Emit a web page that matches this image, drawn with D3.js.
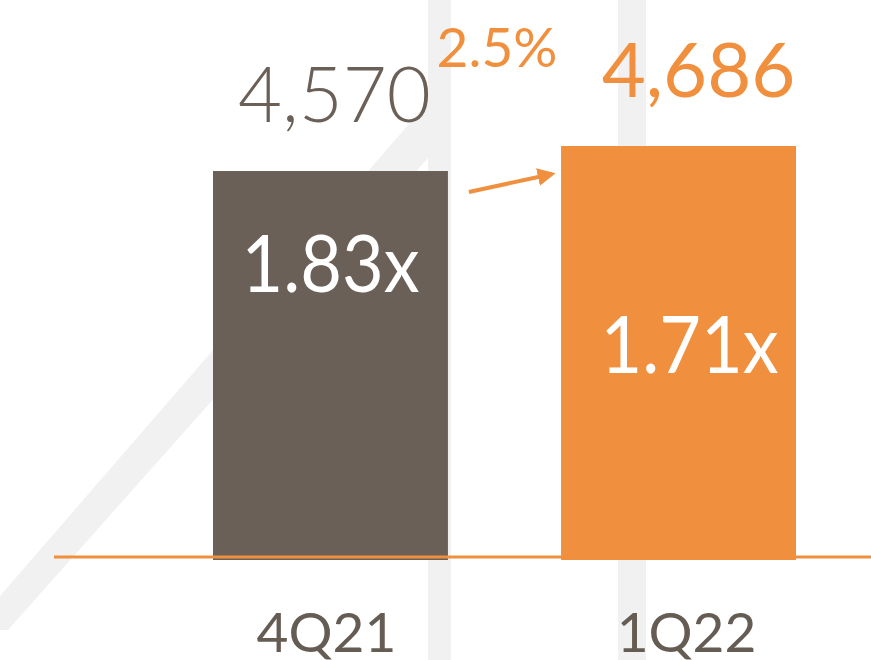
<!DOCTYPE html>
<html>
<head>
<meta charset="utf-8">
<script src="https://cdn.jsdelivr.net/npm/d3@7"></script>
<style>
	body { margin: 0; background: #fff; }
	svg { display: block; font-family: Lato, "Open Sans", sans-serif; }
</style>
</head>
<body>
<main></main>
<script>
const categories = ["4Q21", "1Q22"];
const values = [4570, 4686];
const valueLabels = ["4,570", "4,686"];
const ratioLabels = ["1.83x", "1.71x"];
const growthLabel = "2.5%";

const w = 871, h = 660, base = 557;
const grey = "#6a6057", orange = "#f0903f";

const svg = d3.select("main").append("svg")
	.attr("width", w)
	.attr("height", h);

// faint background watermark shapes
const wm = svg.append("g").attr("fill", "#f1f1f1");
wm.append("rect").attr("x", 428).attr("y", 0).attr("width", 23).attr("height", h);
wm.append("rect").attr("x", 618).attr("y", 0).attr("width", 28).attr("height", h);
wm.append("path").attr("d", "M0,596 L428,102 L451,114 L451,132 L8,630 L0,630 Z");

const xScale = d3.scaleBand()
	.domain(categories)
	.range([213, 796])
	.paddingInner(0.325);

const yScale = d3.scaleLinear()
	.domain([2780, 4686])
	.range([base, 146]);

const colors = [grey, orange];

svg.selectAll("rect.bar")
	.data(values)
	.enter()
	.append("rect")
	.attr("class", "bar")
	.attr("x", (d, i) => xScale(categories[i]))
	.attr("y", (d) => yScale(d))
	.attr("width", xScale.bandwidth())
	.attr("height", (d) => base + 3 - yScale(d))
	.attr("fill", (d, i) => colors[i]);

// baseline
svg.append("line")
	.attr("x1", 54).attr("x2", w)
	.attr("y1", base).attr("y2", base)
	.attr("stroke", orange)
	.attr("stroke-width", 3);

const cx = (i) => xScale(categories[i]) + xScale.bandwidth() / 2;

// values above bars
const valDx = [4, 20], valWeight = [300, 400];
svg.selectAll("text.val")
	.data(values)
	.enter()
	.append("text")
	.attr("class", "val")
	.attr("x", (d, i) => cx(i) + valDx[i])
	.attr("y", (d) => yScale(d) - 49)
	.attr("text-anchor", "middle")
	.style("font-size", "76px")
	.style("font-weight", (d, i) => valWeight[i])
	.attr("fill", (d, i) => colors[i])
	.text((d, i) => valueLabels[i]);

// ratios inside bars
const ratioDy = [121, 227], ratioDx = [0, 11];
svg.selectAll("text.ratio")
	.data(values)
	.enter()
	.append("text")
	.attr("class", "ratio")
	.attr("x", (d, i) => cx(i) + ratioDx[i])
	.attr("y", (d, i) => yScale(d) + ratioDy[i])
	.attr("text-anchor", "middle")
	.attr("textLength", 178)
	.attr("lengthAdjust", "spacingAndGlyphs")
	.style("font-size", "79px")
	.attr("fill", "#fff")
	.text((d, i) => ratioLabels[i]);

// category labels
const catDx = [-4, 8];
svg.selectAll("text.cat")
	.data(categories)
	.enter()
	.append("text")
	.attr("class", "cat")
	.attr("x", (d, i) => cx(i) + catDx[i])
	.attr("y", 652)
	.attr("text-anchor", "middle")
	.style("font-size", "55px")
	.attr("fill", "#655c53")
	.text((d) => d);

// growth arrow
const x0 = xScale(categories[0]) + xScale.bandwidth() + 21;
const x1 = xScale(categories[1]) - 9;
const ay0 = yScale(values[0]) + 21, ay1 = yScale(values[1]) + 28;
svg.append("defs").append("marker")
	.attr("id", "head")
	.attr("viewBox", "0 0 10 10")
	.attr("refX", 8).attr("refY", 5)
	.attr("markerWidth", 4.5).attr("markerHeight", 4.5)
	.attr("orient", "auto")
	.append("path")
	.attr("d", "M0,0 L10,5 L0,10 Z")
	.attr("fill", orange);
svg.append("line")
	.attr("x1", x0).attr("y1", ay0)
	.attr("x2", x1).attr("y2", ay1)
	.attr("stroke", orange)
	.attr("stroke-width", 4)
	.attr("marker-end", "url(#head)");

svg.append("text")
	.attr("x", 497)
	.attr("y", 67)
	.attr("text-anchor", "middle")
	.style("font-size", "55px")
	.style("font-weight", 400)
	.attr("fill", orange)
	.text(growthLabel);
</script>
</body>
</html>
